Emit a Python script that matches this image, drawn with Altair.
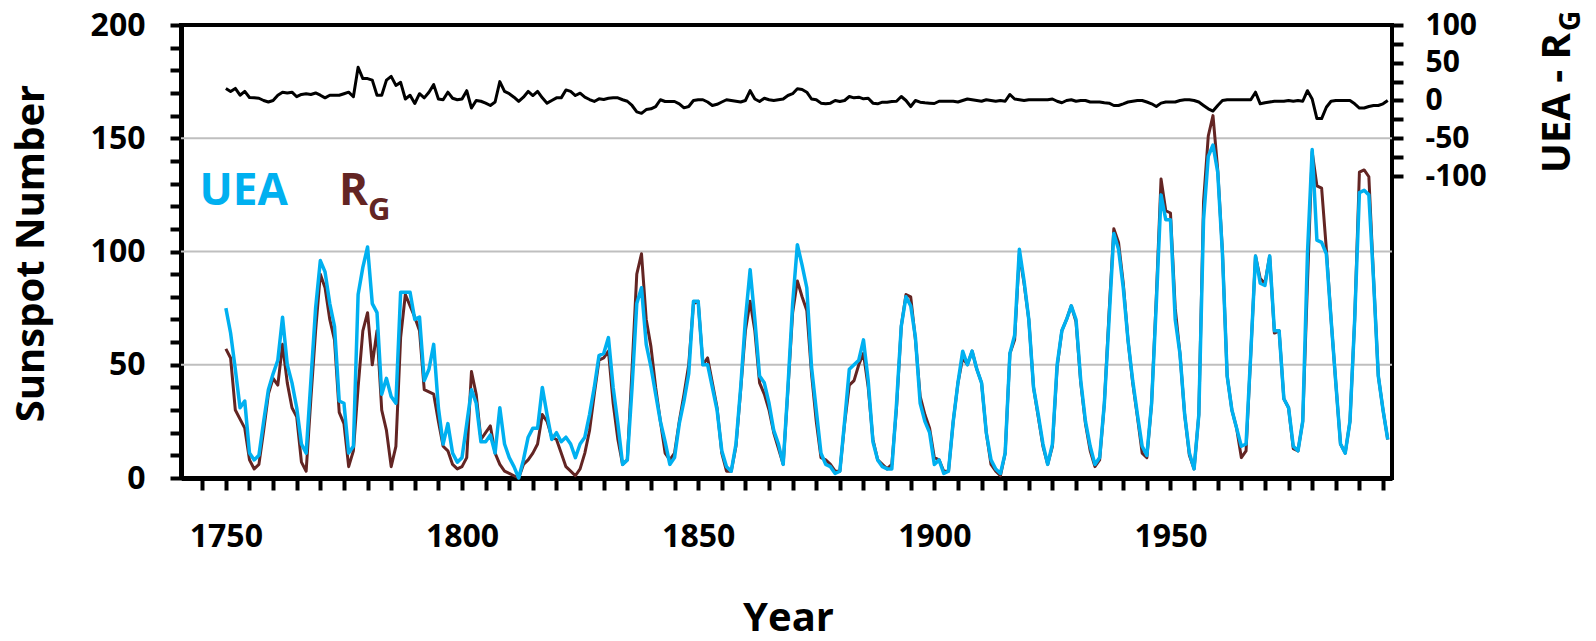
import altair as alt
import pandas as pd

FONT = "Open Sans"
BLUE = "#00B0F0"
BROWN = "#632523"

years = list(range(1750, 1997))

uea = (
    [75, 64, 48, 31, 34, 11, 8, 10, 25, 39,
     46, 52, 71, 50, 42, 31, 15, 11, 43, 75,
     96, 91, 77, 67, 34, 33, 11, 14, 81, 93,
     102, 77, 73, 37, 44, 36, 33, 82, 82, 82,
     70, 71, 43, 48, 59, 31, 15, 24, 11, 7]
    + [9, 24, 39, 33, 16, 16, 19, 11, 31, 15,
       9, 5, 0, 8, 18, 22, 22, 40, 28, 17,
       20, 16, 18, 15, 9, 15, 18, 28, 40, 54,
       55, 62, 40, 24, 6, 8, 40, 77, 84, 59,
       49, 37, 25, 16, 6, 9, 24, 34, 46, 78]
    + [78, 50, 50, 40, 30, 12, 5, 3, 15, 40,
       70, 92, 70, 45, 42, 33, 21, 15, 6, 40,
       77, 103, 94, 84, 49, 30, 11, 6, 5, 2,
       3, 25, 48, 50, 52, 61, 43, 16, 8, 5,
       4, 4, 33, 67, 80, 76, 62, 33, 25, 20]
    + [6, 8, 2, 3, 25, 42, 56, 50, 56, 48,
       42, 20, 8, 4, 2, 11, 55, 63, 101, 87,
       70, 40, 28, 15, 6, 15, 50, 65, 70, 76,
       70, 43, 25, 14, 6, 9, 33, 70, 108, 101,
       84, 61, 43, 28, 14, 10, 33, 77, 125, 114]
    + [114, 70, 55, 28, 11, 4, 28, 114, 142, 147,
       135, 99, 45, 30, 22, 14, 15, 55, 98, 86,
       85, 98, 65, 65, 35, 31, 14, 12, 25, 99,
       145, 105, 104, 99, 70, 42, 15, 11, 25, 70,
       126, 127, 125, 87, 45, 30, 17]
)

rg = (
    [57, 53, 30, 26, 22, 8, 4, 6, 21, 37,
     44, 41, 59, 42, 31, 27, 7, 3, 35, 65,
     90, 84, 70, 61, 29, 24, 5, 12, 40, 65,
     73, 50, 65, 30, 21, 5, 14, 62, 81, 76,
     71, 65, 39, 38, 37, 25, 14, 12, 6, 4]
    + [5, 9, 47, 37, 17, 20, 23, 11, 6, 3,
       2, 1, 0, 6, 8, 11, 15, 28, 25, 18,
       17, 11, 5, 3, 1, 4, 11, 21, 37, 52,
       53, 56, 33, 17, 6, 8, 48, 90, 99, 70,
       58, 40, 25, 11, 8, 11, 25, 37, 50, 77]
    + [78, 50, 53, 42, 31, 11, 3, 3, 14, 39,
       65, 78, 65, 42, 37, 30, 20, 13, 6, 39,
       73, 87, 80, 74, 46, 25, 9, 8, 6, 3,
       3, 24, 41, 43, 50, 55, 40, 17, 8, 6,
       4, 6, 31, 67, 81, 80, 61, 36, 28, 22]
    + [9, 8, 3, 3, 25, 42, 53, 50, 56, 48,
       42, 20, 6, 3, 1, 11, 55, 61, 99, 86,
       70, 40, 27, 14, 6, 14, 49, 65, 70, 76,
       69, 42, 24, 12, 5, 8, 33, 73, 110, 104,
       86, 61, 42, 27, 11, 9, 33, 80, 132, 118]
    + [117, 75, 55, 28, 10, 4, 28, 122, 151, 160,
       136, 100, 45, 30, 22, 9, 12, 55, 98, 88,
       86, 98, 64, 65, 35, 31, 13, 12, 25, 86,
       144, 129, 128, 101, 70, 42, 15, 11, 25, 70,
       135, 136, 133, 88, 45, 30, 17]
)

diff = (
    [16, 12, 16, 7, 12, 4, 3.5, 3, 0, -2,
     0, 7, 11, 10, 11, 5, 8, 9, 8, 10,
     7, 3.5, 7, 7, 7, 9, 11, 5, 44, 29,
     29, 27, 7, 7, 27, 32, 20, 24, 2, 7,
     -4, 9, 3.5, 11, 21, 2, 1, 11, 3, 1]
    + [2, 13, -10, 0, -1, -3.5, -6.6, -2, 25, 12,
       9, 4.4, -1.3, 4.4, 12, 6.6, 12, 3.5, -3.5, 0,
       3.5, 3.5, 14, 12, 6.6, 9.7, 4.4, 1.3, -1.3, 2.2,
       1.3, 3, 3.5, 3.5, 1, -1, -6.6, -15, -17, -12,
       -11, -8, 1, -1.3, -1.3, -1.3, -4.4, -9.7, -8, 0]
    + [1, 1, -2, -6.6, -5, -2, 1, 0, -1, -2,
       0, 13, 2, -1.3, 3, 1, 0, 1, 2, 6.6,
       9, 15.5, 14.6, 11, 2, 1, -3.5, -4.4, -3.5, 0,
       -1.3, 0, 5.3, 3.5, 4.4, 2.2, 3, -3.5, -4.4, -2.2,
       -2.2, -1.3, -1, 5.3, 0, -8, 0, -2.2, -3, -3.5]
    + [-4, -1, -1, -1, -1, -2, 0, 2, 1, 0,
       -1, 1, 0, -1, 0, -1, 8, 2, 1, 0,
       1, 1, 1, 1, 1, 2, -1, -3, 0, 1,
       -1, 0, 0, -2, -2, -2, -3, -3.5, -6.6, -6.6,
       -4.4, -2, -1, 0, 0, -2, -4.4, -8, -3.5, -2]
    + [-2, -2, 0, 1, 1, 0, -2, -6.6, -11, -14,
       -6.6, 0, 1, 1, 1, 1, 1, 1, 11, -4.4,
       -3, -2, -1, -1, -1, 0, -1, 0, -1, 13,
       2, -24, -24, -9, -1, 0, 0, 0, 0, -4.4,
       -10, -10, -8, -6.6, -6.6, -4.4, 0]
)

grid_values = [50, 100, 150]
x_ticks = list(range(1745, 1996, 5))
y_ticks = list(range(0, 201, 10))
yr_ticks = list(range(-100, 101, 25))

df = pd.DataFrame({"Year": years, "UEA": uea, "RG": rg, "Diff": diff})
grid_df = pd.DataFrame({"v": grid_values})

x_axis = alt.Axis(
    values=x_ticks, format="d",
    labelExpr="datum.value % 50 === 0 ? datum.label : ''",
    labelOverlap=False, labelFlush=False,
    grid=False, domainColor="black", domainWidth=5,
    tickColor="black", tickSize=12, tickWidth=4,
    labelFont=FONT, labelFontSize=32, labelFontWeight="bold", labelColor="black",
    labelPadding=31,
    title="Year", titleFont=FONT, titleFontSize=40, titleFontWeight="bold",
    titleColor="black", titleX=607, titleY=152, titleAlign="center",
    titleBaseline="alphabetic",
)
x_scale = alt.Scale(domain=[1740.5, 1996.9], nice=False, zero=False)
x_enc = alt.X("Year:Q", scale=x_scale, axis=x_axis)

y_axis = alt.Axis(
    values=y_ticks,
    labelExpr="datum.value % 50 === 0 ? datum.label : ''",
    labelOverlap=False, labelFlush=False,
    grid=False, domainColor="black", domainWidth=5,
    tickColor="black", tickSize=11, tickWidth=4,
    labelFont=FONT, labelFontSize=32, labelFontWeight="bold", labelColor="black",
    labelPadding=25,
    title="Sunspot Number", titleFont=FONT, titleFontSize=40, titleFontWeight="bold",
    titleColor="black", titleAngle=270, titleX=-138, titleY=228,
    titleAlign="center", titleBaseline="alphabetic",
)
y_scale = alt.Scale(domain=[0, 200], nice=False, zero=False)

yr_axis = alt.Axis(
    orient="right", values=yr_ticks,
    labelExpr=("datum.value % 50 === 0 ? (datum.value < 0 ? '-' + abs(datum.value) "
               ": '' + datum.value) : ''"),
    labelOverlap=False, labelFlush=False,
    grid=False, domain=False,
    tickColor="black", tickSize=11, tickWidth=4,
    labelFont=FONT, labelFontSize=30, labelFontWeight="bold", labelColor="black",
    labelPadding=22, title=None,
)
yr_scale = alt.Scale(domain=[-500, 100], nice=False, zero=False)

grid = alt.Chart(grid_df).mark_rule(color="#BFBFBF", strokeWidth=2).encode(
    y=alt.Y("v:Q", scale=y_scale, axis=y_axis)
)
rg_line = alt.Chart(df).mark_line(color=BROWN, strokeWidth=3, strokeJoin="round").encode(
    x=x_enc, y=alt.Y("RG:Q", scale=y_scale, axis=y_axis)
)
uea_line = alt.Chart(df).mark_line(color=BLUE, strokeWidth=3.5, strokeJoin="round").encode(
    x=x_enc, y=alt.Y("UEA:Q", scale=y_scale, axis=y_axis)
)
left = alt.layer(grid, rg_line, uea_line)

diff_line = alt.Chart(df).mark_line(color="black", strokeWidth=3, strokeJoin="round").encode(
    x=x_enc, y=alt.Y("Diff:Q", scale=yr_scale, axis=yr_axis)
)


def label(text, x, y, size, color, angle=0, align="left"):
    return alt.Chart(pd.DataFrame({"t": [text]})).mark_text(
        font=FONT, fontSize=size, fontWeight="bold", color=color,
        align=align, baseline="alphabetic", angle=angle,
    ).encode(x=alt.value(x), y=alt.value(y), text="t:N")


texts = [
    label("UEA", 18.5, 180, 44, BLUE),
    label("R", 158, 180, 44, BROWN),
    label("G", 187, 195, 31, BROWN),
    label("UEA - R", 1389, 8, 40, "black", angle=270, align="right"),
    label("G", 1399, 6, 28, "black", angle=270, align="left"),
]

chart = alt.layer(left, diff_line, *texts).resolve_scale(y="independent").properties(
    width=1211, height=453,
    padding={"left": 173, "top": 17, "right": 196, "bottom": 163},
    autosize=alt.AutoSizeParams(type="none"),
    background="white",
).configure_view(stroke="black", strokeWidth=4)

chart.save("out.html", embed_options={"renderer": "svg", "actions": False})
